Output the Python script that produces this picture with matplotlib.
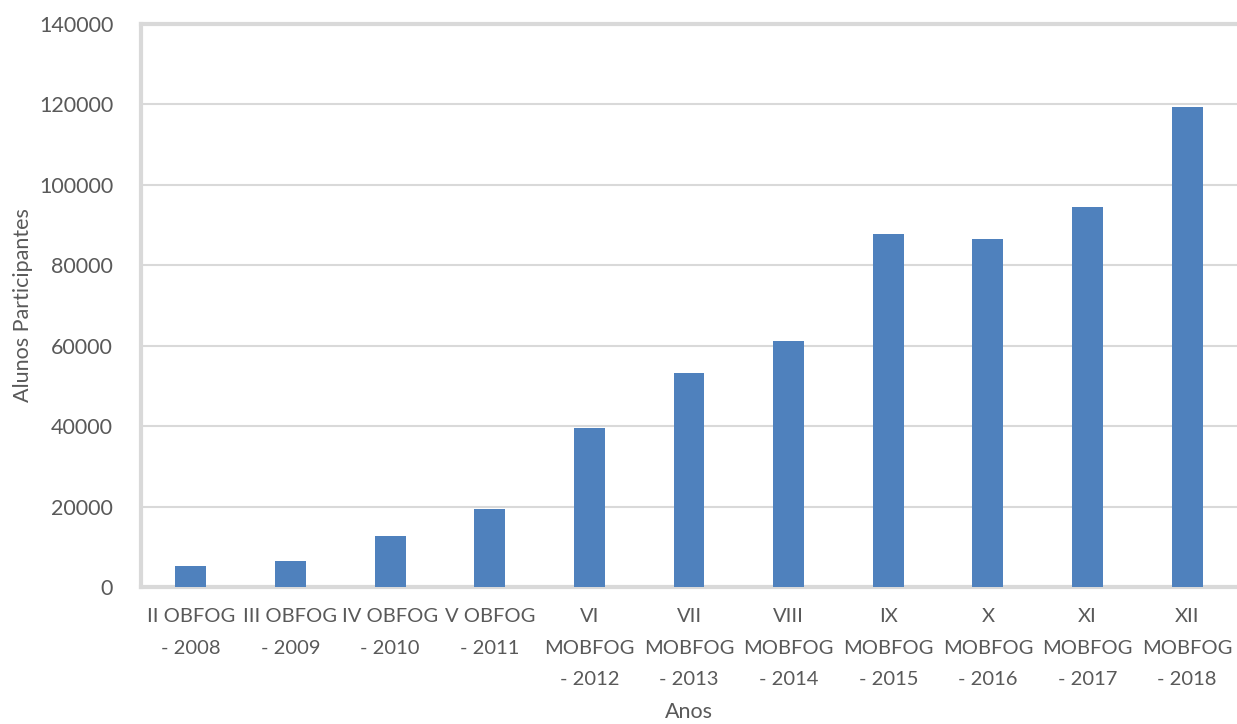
import numpy as np
import matplotlib.pyplot as plt

# dados
edicoes = ["II OBFOG\n- 2008", "III OBFOG\n- 2009", "IV OBFOG\n- 2010", "V OBFOG\n- 2011",
           "VI\nMOBFOG\n- 2012", "VII\nMOBFOG\n- 2013", "VIII\nMOBFOG\n- 2014",
           "IX\nMOBFOG\n- 2015", "X\nMOBFOG\n- 2016", "XI\nMOBFOG\n- 2017", "XII\nMOBFOG\n- 2018"]
alunos = [5300, 6400, 12600, 19500, 39500, 53200, 61200, 87800, 86500, 94500, 119400]
yticks = [0, 20000, 40000, 60000, 80000, 100000, 120000, 140000]

plt.rcParams['font.family'] = ['Lato', 'DejaVu Sans']
cinza = '#595959'
borda = '#D9D9D9'

fig = plt.figure(figsize=(12.37, 7.24), dpi=100)
ax = fig.add_axes([0.114, 0.189, 0.886, 0.778])

x = np.arange(len(edicoes))
ax.bar(x, alunos, width=0.31, color='#4F81BD', zorder=3)

ax.set_xlim(-0.5, len(edicoes) - 0.5)
ax.set_ylim(0, 140000)
ax.set_yticks(yticks)
ax.set_yticklabels([str(v) for v in yticks])
ax.set_xticks(x)
ax.set_xticklabels(edicoes, linespacing=2.05, va='top')
ax.tick_params(axis='x', length=0, labelsize=14.5, colors=cinza, pad=15)
ax.tick_params(axis='y', length=0, labelsize=15.5, colors=cinza, pad=20)
ax.yaxis.grid(True, color=borda, linewidth=1.5, zorder=0)

for lado in ['left', 'top', 'bottom']:
    ax.spines[lado].set_color(borda)
    ax.spines[lado].set_linewidth(3)
ax.spines['right'].set_visible(False)

ax.set_xlabel("Anos", fontsize=15.5, color=cinza, labelpad=10)
ax.set_ylabel("Alunos Participantes", fontsize=15.5, color=cinza, labelpad=4)

plt.savefig("out.png", dpi=100)
